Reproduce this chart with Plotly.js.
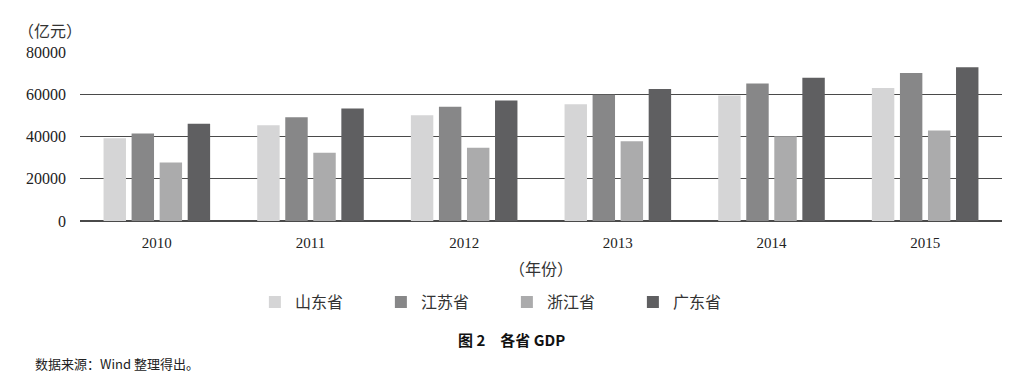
<!DOCTYPE html>
<html><head><meta charset="utf-8">
<script src="https://cdn.plot.ly/plotly-3.0.1.min.js"></script>
<style>html,body{margin:0;padding:0;background:#fff;}#chart{width:1023px;height:387px;}</style>
</head><body><div id="chart"></div>
<script>
const years = ['2010','2011','2012','2013','2014','2015'];
const seriesNames = ['山东省','江苏省','浙江省','广东省'];
const shandong = [39170, 45362, 50013, 55230, 59427, 63002];
const jiangsu = [41425, 49110, 54058, 59753, 65088, 70116];
const zhejiang = [27722, 32319, 34665, 37757, 40173, 42886];
const guangdong = [46013, 53210, 57068, 62475, 67810, 72813];
const colors = ['#d5d5d6', '#878788', '#ababac', '#5f5f61'];
const yTicks = [0, 20000, 40000, 60000, 80000];

const values = [shandong, jiangsu, zhejiang, guangdong];
const traces = values.map((v, i) => ({
  type: 'bar', x: years, y: v, name: seriesNames[i],
  marker: {color: colors[i], line: {width: 0}}
}));

const cjk = '"Noto Sans CJK SC", sans-serif';
const serif = '"Liberation Serif", "Times New Roman", serif';

const layout = {
  width: 1023, height: 387,
  margin: {l: 80, r: 21, t: 52, b: 166},
  paper_bgcolor: '#fff', plot_bgcolor: '#fff',
  barmode: 'group', bargap: 0.27, bargroupgap: 0.2,
  showlegend: true,
  legend: {orientation: 'h', x: 0.463, xanchor: 'center', y: -0.48, yanchor: 'middle',
           font: {family: cjk, size: 16, color: '#333'},
           entrywidth: 81, entrywidthmode: 'pixels', itemwidth: 30, traceorder: 'normal'},
  xaxis: {type: 'category', showgrid: false, showline: false, zeroline: false, ticks: '',
          ticklabelstandoff: 11,
          tickfont: {family: serif, size: 15, color: '#222'}},
  yaxis: {range: [0, 80000], tickvals: yTicks, ticktext: yTicks.map(String),
          showgrid: true, gridcolor: '#4a4a4a', gridwidth: 1.2,
          zeroline: true, zerolinecolor: '#4a4a4a', zerolinewidth: 1.2,
          showline: false, ticks: '', ticklabelstandoff: 13,
          tickfont: {family: serif, size: 16, color: '#222'}},
  annotations: [
    {text: '（亿元）', xref: 'paper', yref: 'paper', x: 0, y: 1, xshift: -64, yshift: 22,
     xanchor: 'left', yanchor: 'middle', showarrow: false, font: {family: cjk, size: 16, color: '#333'}},
    {text: '（年份）', xref: 'paper', yref: 'paper', x: 0.5, y: 0, yshift: -47,
     xanchor: 'center', yanchor: 'middle', showarrow: false, font: {family: cjk, size: 16, color: '#333'}},
    {text: '<b>图 2　各省 GDP</b>', xref: 'paper', yref: 'paper', x: 0.5, y: 0, xshift: -30, yshift: -118,
     xanchor: 'center', yanchor: 'middle', showarrow: false, font: {family: cjk, size: 15, color: '#111'}},
    {text: '数据来源：Wind 整理得出。', xref: 'paper', yref: 'paper', x: 0, y: 0, xshift: -47, yshift: -142,
     xanchor: 'left', yanchor: 'middle', showarrow: false, font: {family: cjk, size: 13, color: '#222'}}
  ]
};
Plotly.newPlot('chart', traces, layout, {displayModeBar: false, staticPlot: true});
</script></body></html>
